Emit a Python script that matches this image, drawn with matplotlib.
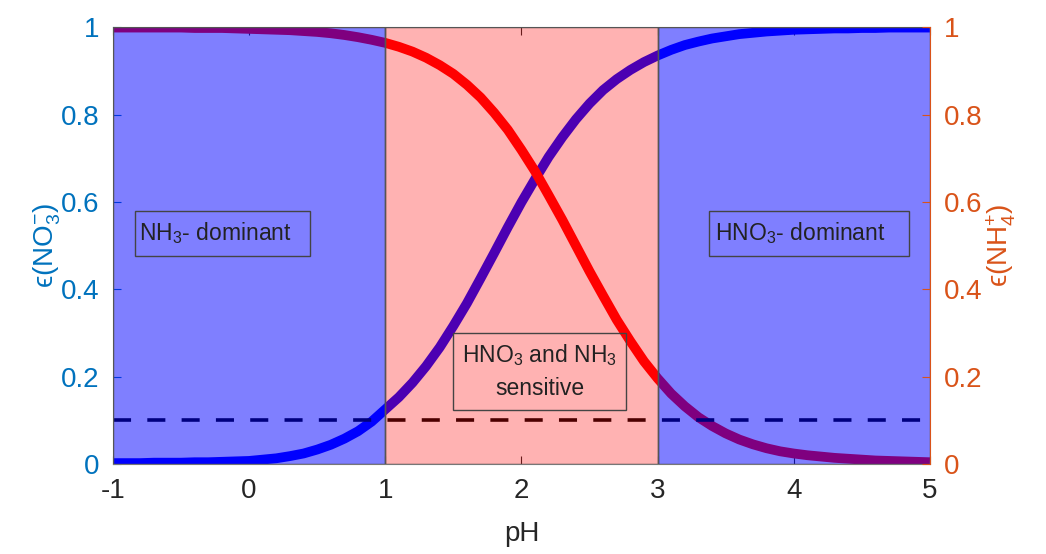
import matplotlib
matplotlib.use("Agg")
import matplotlib.pyplot as plt
from matplotlib.patches import Rectangle

plt.rcParams['font.family'] = ['Liberation Sans', 'DejaVu Sans']
plt.rcParams['mathtext.fontset'] = 'custom'
plt.rcParams['mathtext.rm'] = 'Liberation Sans'
plt.rcParams['mathtext.it'] = 'Liberation Sans:italic'

# valeurs (pas de 0.1 en pH)
ph = [round(-1 + 0.1 * i, 1) for i in range(61)]
eps_no3 = [0.002, 0.002, 0.002, 0.003, 0.003, 0.003, 0.004, 0.004, 0.005, 0.006,
           0.007, 0.010, 0.013, 0.018, 0.024, 0.033, 0.044, 0.058, 0.075, 0.097,
           0.125, 0.153, 0.186, 0.224, 0.267, 0.316, 0.368, 0.425, 0.483, 0.542,
           0.599, 0.652, 0.703, 0.748, 0.789, 0.825, 0.856, 0.881, 0.902, 0.920,
           0.935, 0.948, 0.959, 0.967, 0.974, 0.979, 0.984, 0.987, 0.990, 0.992,
           0.994, 0.995, 0.996, 0.997, 0.997, 0.998, 0.998, 0.999, 0.999, 0.999,
           0.999]
eps_nh4 = [0.999, 0.999, 0.999, 0.999, 0.999, 0.999, 0.998, 0.998, 0.998, 0.997,
           0.996, 0.995, 0.994, 0.993, 0.991, 0.989, 0.986, 0.982, 0.977, 0.971,
           0.964, 0.955, 0.944, 0.930, 0.913, 0.893, 0.868, 0.839, 0.804, 0.765,
           0.719, 0.670, 0.615, 0.559, 0.500, 0.441, 0.385, 0.330, 0.281, 0.235,
           0.196, 0.161, 0.132, 0.107, 0.087, 0.070, 0.056, 0.045, 0.036, 0.029,
           0.024, 0.020, 0.017, 0.014, 0.012, 0.010, 0.008, 0.007, 0.006, 0.005,
           0.004]
seuil = 0.1
regions = [(-1, 1, 'blue', 0.5), (1, 3, 'red', 0.3), (3, 5, 'blue', 0.5)]

c_left = '#0072BD'
c_right = '#D95319'

fig = plt.figure(figsize=(10.46, 5.54), dpi=100)
ax = fig.add_axes([0.108, 0.1625, 0.781, 0.7885])

ax.plot(ph, eps_no3, color='blue', lw=7, solid_capstyle='butt', zorder=2)
ax.plot(ph, eps_nh4, color='red', lw=7, solid_capstyle='butt', zorder=2)
ax.axhline(seuil, color='black', lw=2.6, dashes=(5, 4.5), zorder=2)

# zones de sensibilité (par-dessus les courbes, comme dans l'original)
for x0, x1, c, a in regions:
    ax.add_patch(Rectangle((x0, 0), x1 - x0, 1, facecolor=c, alpha=a,
                           edgecolor='none', zorder=3))
    ax.add_patch(Rectangle((x0, 0), x1 - x0, 1, facecolor='none',
                           edgecolor='#555555', lw=1, zorder=3))

# boîtes de texte
boxes = [((-0.84, 0.476), 1.286, 0.104, (-0.81, 0.528), 'NH$_\\mathregular{3}$- dominant', 'left'),
         ((3.38, 0.476), 1.47, 0.104, (3.42, 0.528), 'HNO$_\\mathregular{3}$- dominant', 'left'),
         ((1.5, 0.124), 1.27, 0.176, (2.135, 0.212), 'HNO$_\\mathregular{3}$ and NH$_\\mathregular{3}$\nsensitive', 'center')]
for (bx, by), bw, bh, (tx, ty), txt, ha in boxes:
    ax.add_patch(Rectangle((bx, by), bw, bh, facecolor='none', edgecolor='#444444',
                           lw=1, zorder=4))
    ax.text(tx, ty, txt, ha=ha, va='center', fontsize=16.5, color='#222222',
            zorder=5, linespacing=1.5)

ax.set_xlim(-1, 5)
ax.set_ylim(0, 1)
ax.set_xticks(range(-1, 6))
ax.set_xticklabels([str(v) for v in range(-1, 6)])
yt = [0, 0.2, 0.4, 0.6, 0.8, 1]
ylab = ['0', '0.2', '0.4', '0.6', '0.8', '1']
ax.set_yticks(yt)
ax.set_yticklabels(ylab)
ax.tick_params(axis='x', direction='in', labelsize=20, colors='#262626', length=6,
               top=True, pad=10)
ax.tick_params(axis='y', direction='in', labelsize=20, colors=c_left, length=6, pad=10)
ax.set_xlabel('pH', fontsize=20, color='#262626', labelpad=12)
ax.set_ylabel('ϵ(NO$_\\mathregular{3}^\\mathregular{-}$)', fontsize=20, color=c_left,
              labelpad=-2)
for s in ['top', 'bottom', 'left']:
    ax.spines[s].set_color('#777777')
ax.spines['right'].set_visible(False)

ax2 = ax.twinx()
ax2.set_ylim(0, 1)
ax2.set_yticks(yt)
ax2.set_yticklabels(ylab)
ax2.tick_params(axis='y', direction='in', labelsize=20, colors=c_right, length=6, pad=10)
ax2.set_ylabel('ϵ(NH$_\\mathregular{4}^\\mathregular{+}$)', fontsize=20, color=c_right,
               labelpad=2)
ax2.spines['right'].set_color(c_right)
for s in ['top', 'bottom', 'left']:
    ax2.spines[s].set_visible(False)

fig.savefig('out.png', dpi=100)
